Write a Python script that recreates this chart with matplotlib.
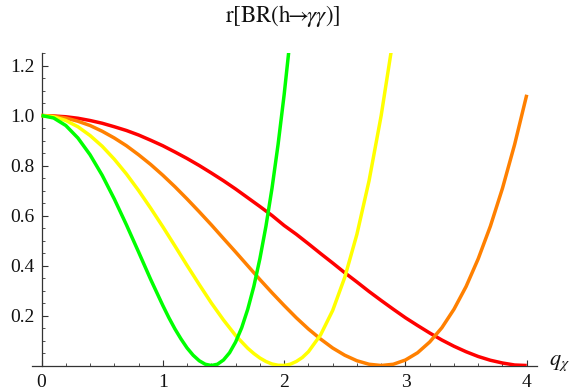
import matplotlib
matplotlib.use("Agg")
import matplotlib.pyplot as plt
from matplotlib.ticker import MultipleLocator

plt.rcParams['font.family'] = ['Liberation Serif', 'DejaVu Serif']
plt.rcParams['mathtext.fontset'] = 'stix'

# ---- data ----
q_green = [0, 0.1, 0.2, 0.3, 0.4, 0.5, 0.6, 0.7, 0.8, 0.9, 1.0, 1.05, 1.1, 1.15, 1.2, 1.25,
           1.3, 1.35, 1.4, 1.45, 1.5, 1.55, 1.6, 1.65, 1.7, 1.75, 1.8, 1.85, 1.9, 1.95, 2.0, 2.05]
r_green = [1.0, 0.990, 0.960, 0.910, 0.843, 0.761, 0.666, 0.5625, 0.454, 0.344, 0.240, 0.191,
           0.146, 0.106, 0.070, 0.041, 0.019, 0.005, 0.0, 0.005, 0.022, 0.051, 0.094, 0.151,
           0.225, 0.316, 0.427, 0.557, 0.709, 0.884, 1.083, 1.309]

q_yellow = [0, 0.1, 0.2, 0.3, 0.4, 0.5, 0.6, 0.7, 0.8, 0.9, 1.0, 1.1, 1.2, 1.3, 1.4, 1.5, 1.6,
            1.7, 1.75, 1.8, 1.85, 1.9, 1.95, 2.0, 2.05, 2.1, 2.15, 2.2, 2.3, 2.4, 2.5, 2.6,
            2.7, 2.8, 2.9]
r_yellow = [1.0, 0.995, 0.980, 0.955, 0.920, 0.877, 0.825, 0.766, 0.700, 0.629, 0.555, 0.478,
            0.400, 0.324, 0.250, 0.182, 0.120, 0.069, 0.048, 0.030, 0.016, 0.006, 0.001, 0.0004,
            0.005, 0.016, 0.032, 0.055, 0.122, 0.220, 0.353, 0.525, 0.739, 1.000, 1.311]

q_orange = [0, 0.1, 0.2, 0.3, 0.4, 0.5, 0.6, 0.7, 0.8, 0.9, 1.0, 1.1, 1.2, 1.3, 1.4, 1.5, 1.6,
            1.7, 1.8, 1.9, 2.0, 2.1, 2.2, 2.3, 2.4, 2.5, 2.6, 2.7, 2.8, 2.9, 3.0, 3.1, 3.2,
            3.3, 3.4, 3.5, 3.6, 3.7, 3.8, 3.9, 4.0]
r_orange = [1.0, 0.997, 0.990, 0.977, 0.960, 0.937, 0.910, 0.879, 0.843, 0.804, 0.761, 0.715,
            0.666, 0.615, 0.5625, 0.508, 0.454, 0.399, 0.344, 0.291, 0.240, 0.191, 0.146,
            0.106, 0.070, 0.041, 0.019, 0.005, 0.0, 0.005, 0.022, 0.051, 0.094, 0.151, 0.225,
            0.316, 0.427, 0.557, 0.709, 0.884, 1.083]

q_red = [0, 0.1, 0.2, 0.3, 0.4, 0.5, 0.6, 0.7, 0.8, 0.9, 1.0, 1.1, 1.2, 1.3, 1.4, 1.5, 1.6,
         1.7, 1.8, 1.9, 2.0, 2.1, 2.2, 2.3, 2.4, 2.5, 2.6, 2.7, 2.8, 2.9, 3.0, 3.1, 3.2,
         3.3, 3.4, 3.5, 3.6, 3.7, 3.8, 3.9, 4.0]
r_red = [1.0, 0.998, 0.995, 0.989, 0.980, 0.969, 0.955, 0.940, 0.922, 0.901, 0.879, 0.854,
         0.828, 0.800, 0.770, 0.739, 0.706, 0.671, 0.636, 0.600, 0.560, 0.525, 0.487, 0.448,
         0.410, 0.371, 0.334, 0.296, 0.260, 0.225, 0.191, 0.160, 0.130, 0.102, 0.077, 0.055,
         0.036, 0.021, 0.010, 0.002, 0.0]

x_ticks = [0, 1, 2, 3, 4]
y_ticks = [0.2, 0.4, 0.6, 0.8, 1.0, 1.2]
y_tick_labels = ["0.2", "0.4", "0.6", "0.8", "1.0", "1.2"]
title_text = r"$\mathrm{r[BR(h}\!\!\rightarrow\!\!\gamma\gamma\mathrm{)]}$"
x_label = r"$q_\chi$"

# ---- figure ----
W, H = 571, 391
fig = plt.figure(figsize=(W / 100, H / 100), dpi=100)
left_px, right_px, bottom_px, top_px = 31.7, 536.7, 365.5, 53.0
ax = fig.add_axes([left_px / W, 1 - bottom_px / H, (right_px - left_px) / W, (bottom_px - top_px) / H])

lw = 2.5
ax.plot(q_red, r_red, color=(1, 0, 0), lw=lw, zorder=3, solid_capstyle='butt')
ax.plot(q_orange, r_orange, color=(1, 0.5, 0), lw=lw, zorder=4, solid_capstyle='butt')
ax.plot(q_yellow, r_yellow, color=(1, 1, 0), lw=lw, zorder=5, solid_capstyle='butt')
ax.plot(q_green, r_green, color=(0, 1, 0), lw=lw, zorder=6, solid_capstyle='butt')

ax.set_xlim(-0.081, 4.082)
ax.set_ylim(0, 1.25)

for s in ['top', 'right']:
    ax.spines[s].set_visible(False)
ax.spines['left'].set_position(('data', 0))
ax.spines['bottom'].set_position(('data', 0))
axis_color = '#333333'
for s in ['left', 'bottom']:
    ax.spines[s].set_color(axis_color)
    ax.spines[s].set_linewidth(0.9)

ax.set_xticks(x_ticks)
ax.set_xticklabels([str(t) for t in x_ticks])
ax.set_yticks(y_ticks)
ax.set_yticklabels(y_tick_labels)
ax.xaxis.set_minor_locator(MultipleLocator(0.2))
ax.yaxis.set_minor_locator(MultipleLocator(0.05))
ax.tick_params(which='major', direction='in', length=4.5, width=0.8, color=axis_color,
               labelsize=14, labelcolor='#111111')
ax.tick_params(which='minor', direction='in', length=2.5, width=0.6, color=axis_color)
ax.tick_params(axis='x', which='major', pad=6)
ax.tick_params(axis='y', which='major', pad=5)
ax.patch.set_alpha(0)

fig.text(283 / W, 1 - 16 / H, title_text, ha='center', va='center', fontsize=16.5, color='#111111')
fig.text(549 / W, 1 - 363 / H, x_label, ha='left', va='center', fontsize=16, color='#111111')

fig.savefig("out.png", dpi=100)
